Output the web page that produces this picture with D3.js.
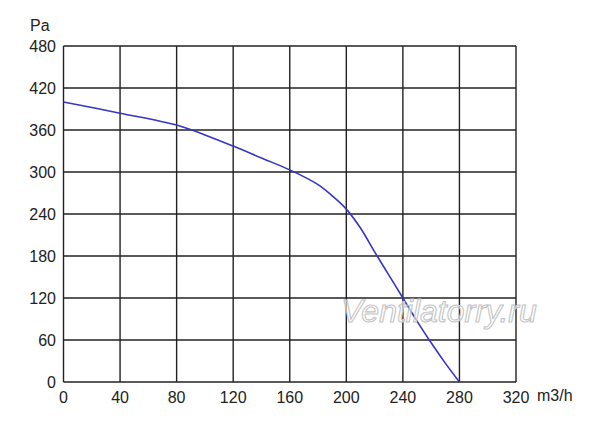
<!DOCTYPE html>
<html><head><meta charset="utf-8">
<script src="https://cdn.jsdelivr.net/npm/d3@7"></script>
<style>body{margin:0;background:#fff}svg{display:block}</style>
</head><body>
<svg id="c" width="600" height="424"></svg>
<script>
const flow = [0, 40, 80, 100, 120, 140, 160, 180, 190, 200, 210, 220, 230, 240, 250, 260, 270, 280];
const pressure = [400, 384, 367, 353, 337, 320, 303, 282, 266, 247, 220, 186, 153, 120, 87, 56, 27, 0];
const xTicks = [0, 40, 80, 120, 160, 200, 240, 280, 320];
const yTicks = [0, 60, 120, 180, 240, 300, 360, 420, 480];

const svg = d3.select('#c');
const x = d3.scaleLinear().domain([0, 320]).range([63.5, 516]);
const y = d3.scaleLinear().domain([0, 480]).range([382, 46]);
const font = 'Liberation Sans, Arial, sans-serif';

const g = svg.append('g');
g.selectAll('.vx').data(xTicks).enter().append('line')
  .attr('x1', d => x(d)).attr('x2', d => x(d)).attr('y1', y(0)).attr('y2', y(480))
  .attr('stroke', '#222').attr('stroke-width', 1.4);
g.selectAll('.hy').data(yTicks).enter().append('line')
  .attr('y1', d => y(d)).attr('y2', d => y(d)).attr('x1', x(0)).attr('x2', x(320))
  .attr('stroke', '#222').attr('stroke-width', 1.4);

svg.append('g').selectAll('text').data(yTicks).enter().append('text')
  .attr('x', 56).attr('y', d => y(d) + 6).attr('text-anchor', 'end')
  .attr('font-family', font).attr('font-size', 16).attr('fill', '#222').text(d => d);
svg.append('g').selectAll('text').data(xTicks).enter().append('text')
  .attr('x', d => x(d)).attr('y', 403).attr('text-anchor', 'middle')
  .attr('font-family', font).attr('font-size', 16).attr('fill', '#222').text(d => d);
svg.append('text').attr('x', 30).attr('y', 31).attr('font-family', font).attr('font-size', 16).attr('fill', '#222').text('Pa');
svg.append('text').attr('x', 537).attr('y', 401).attr('font-family', font).attr('font-size', 16).attr('fill', '#222').text('m3/h');

const line = d3.line().x((d, i) => x(flow[i])).y(d => y(d)).curve(d3.curveCatmullRom.alpha(0.5));
svg.append('path').datum(pressure).attr('d', line).attr('fill', 'none')
  .attr('stroke', '#3535c8').attr('stroke-width', 1.6);

svg.append('text').attr('x', 439).attr('y', 322).attr('text-anchor', 'middle')
  .attr('font-family', font).attr('font-size', 32).attr('font-style', 'italic')
  .attr('fill', 'rgba(255,255,255,0.6)').attr('stroke', '#c4c4c4').attr('stroke-width', 1.1)
  .text('Ventilatorry.ru');
</script>
</body></html>
